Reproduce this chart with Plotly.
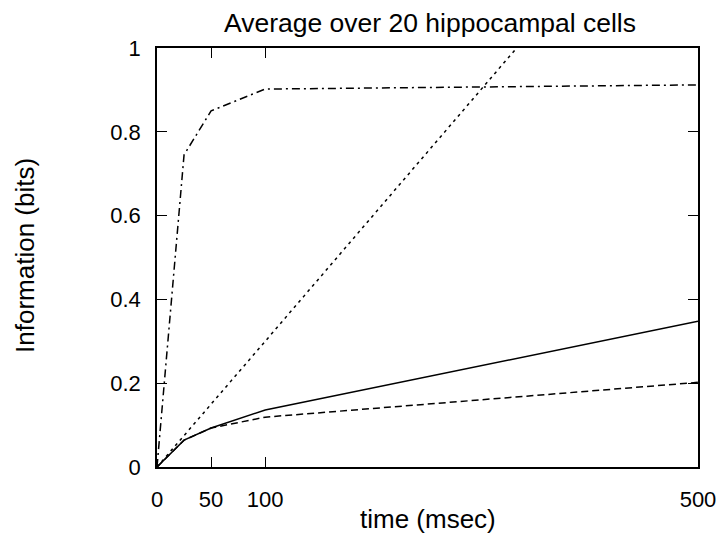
import plotly.graph_objects as go

# Data
time_ms = [0, 25, 50, 100, 500]
info_solid = [0.0, 0.064, 0.093, 0.136, 0.348]
info_dashed = [0.0, 0.064, 0.093, 0.119, 0.202]
info_dotted = [0.0, 0.075, 0.150, 0.300, 1.505]
info_dashdot = [0.0, 0.745, 0.850, 0.902, 0.912]

x_ticks = [0, 50, 100, 500]
y_ticks = [0, 0.2, 0.4, 0.6, 0.8, 1]
y_ticktext = ["0", "0.2", "0.4", "0.6", "0.8", "1"]

FONT = "Liberation Sans, Arial, Helvetica, sans-serif"

fig = go.Figure()
series = [
    (info_solid, "solid"),
    (info_dashed, "7px,4px"),
    (info_dotted, "3px,4px"),
    (info_dashdot, "8px,4px,2px,4px"),
]
for ys, dash in series:
    fig.add_trace(go.Scatter(
        x=time_ms, y=ys, mode="lines",
        line=dict(color="black", width=1.5, dash=dash),
        showlegend=False,
    ))

axis_common = dict(
    showgrid=False, zeroline=False,
    showline=True, linecolor="black", linewidth=1.5,
    mirror="ticks", ticks="inside", ticklen=10, tickwidth=1.2,
    tickcolor="black",
    tickfont=dict(family=FONT, size=22, color="black"),
)

fig.update_layout(
    width=728, height=533,
    margin=dict(l=157, r=24, t=48, b=66),
    paper_bgcolor="white", plot_bgcolor="white",
    title=dict(
        text="Average over 20 hippocampal cells",
        x=430 / 728, xanchor="center",
        y=1 - 22.5 / 533, yanchor="middle", yref="container",
        font=dict(family=FONT, size=26.5, color="black"),
    ),
    xaxis=dict(range=[0, 500], tickvals=x_ticks, ticklabelstandoff=12, **axis_common),
    yaxis=dict(range=[0, 1], tickvals=y_ticks, ticktext=y_ticktext,
               ticklabelstandoff=10, **axis_common),
    annotations=[
        dict(text="time (msec)", xref="paper", yref="paper",
             x=0.5, y=-(519 - 467) / 419, xanchor="center", yanchor="middle",
             showarrow=False, font=dict(family=FONT, size=26, color="black")),
        dict(text="Information (bits)", xref="paper", yref="paper",
             x=-(157 - 23.5) / 547, y=(468 - 256) / 419, xanchor="center", yanchor="middle",
             textangle=-90, showarrow=False,
             font=dict(family=FONT, size=26, color="black")),
    ],
)

fig.write_html("out.html")
